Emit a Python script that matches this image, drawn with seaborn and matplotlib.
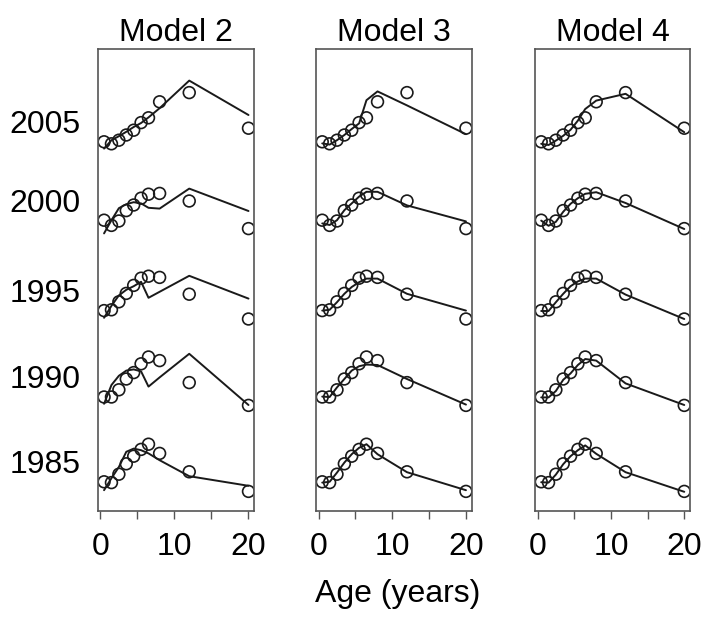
import numpy as np
import pandas as pd
import matplotlib.pyplot as plt
import seaborn as sns

# ages where the fish were sampled (years)
ages = [0.5, 1.5, 2.5, 3.5, 4.5, 5.5, 6.5, 8, 12, 20]
years = [1985, 1990, 1995, 2000, 2005]
models = ["Model 2", "Model 3", "Model 4"]

# observed values (same in every panel), relative to the year label
obs = {
    1985: [-0.50, -0.52, -0.31, -0.05, 0.14, 0.31, 0.44, 0.21, -0.25, -0.74],
    1990: [-0.51, -0.51, -0.33, -0.06, 0.10, 0.32, 0.49, 0.40, -0.15, -0.72],
    1995: [-0.50, -0.48, -0.28, -0.07, 0.13, 0.31, 0.36, 0.33, -0.09, -0.71],
    2000: [-0.49, -0.62, -0.51, -0.25, -0.11, 0.06, 0.16, 0.18, -0.01, -0.70],
    2005: [-0.50, -0.55, -0.46, -0.33, -0.21, -0.02, 0.10, 0.50, 0.73, -0.16],
}

# fitted curves
fit_m2 = {
    1985: [-0.71, -0.41, -0.13, 0.25, 0.33, 0.29, 0.21, 0.04, -0.36, -0.60],
    1990: [-0.68, -0.21, 0.02, 0.15, 0.18, 0.13, -0.25, -0.02, 0.57, -0.71],
    1995: [-0.68, -0.38, -0.12, 0.02, 0.11, 0.22, -0.18, -0.03, 0.37, -0.20],
    2000: [-0.82, -0.49, -0.19, -0.09, -0.04, -0.07, -0.18, -0.20, 0.30, -0.26],
    2005: [-0.67, -0.46, -0.36, -0.25, -0.13, -0.03, 0.11, 0.34, 1.03, 0.17],
}
fit_m3 = {
    1985: [-0.52, -0.50, -0.27, -0.02, 0.19, 0.35, 0.44, 0.19, -0.26, -0.71],
    1990: [-0.50, -0.51, -0.27, -0.06, 0.15, 0.26, 0.30, 0.29, -0.06, -0.70],
    1995: [-0.50, -0.48, -0.29, -0.08, 0.09, 0.21, 0.30, 0.30, -0.08, -0.50],
    2000: [-0.57, -0.61, -0.49, -0.24, -0.07, 0.10, 0.22, 0.22, -0.12, -0.52],
    2005: [-0.54, -0.57, -0.46, -0.33, -0.18, -0.04, 0.54, 0.76, 0.41, -0.31],
}
fit_m4 = {
    1985: [-0.51, -0.52, -0.32, -0.06, 0.14, 0.29, 0.41, 0.20, -0.26, -0.75],
    1990: [-0.52, -0.52, -0.36, -0.08, 0.08, 0.29, 0.44, 0.40, -0.17, -0.71],
    1995: [-0.51, -0.51, -0.29, -0.08, 0.11, 0.23, 0.30, 0.30, -0.10, -0.71],
    2000: [-0.50, -0.63, -0.53, -0.28, -0.08, 0.06, 0.17, 0.21, -0.06, -0.71],
    2005: [-0.55, -0.58, -0.47, -0.35, -0.20, 0.03, 0.32, 0.53, 0.70, -0.26],
}
fits = {"Model 2": fit_m2, "Model 3": fit_m3, "Model 4": fit_m4}

# vertical position of each year's curve in the stack
offset = {1985: 1.23, 1990: 3.36, 1995: 5.51, 2000: 7.76, 2005: 9.73}

rows = []
for m in models:
    for yr in years:
        for a, o, f in zip(ages, obs[yr], fits[m][yr]):
            rows.append(dict(model=m, year=yr, age=a,
                             obs=o + offset[yr], fit=f + offset[yr]))
df = pd.DataFrame(rows)

sns.set_theme(style="white")
plt.rcParams['font.family'] = ['Liberation Sans', 'DejaVu Sans']
plt.rcParams['text.color'] = 'black'
plt.rcParams['xtick.color'] = 'black'
plt.rcParams['ytick.color'] = 'black'

fig = plt.figure(figsize=(7.03, 6.25), dpi=100)
lefts = [0.1398, 0.4502, 0.7617]
widths = [0.2219, 0.2208, 0.2198]
FS = 23

for i, m in enumerate(models):
    ax = fig.add_axes([lefts[i], 0.1824, widths[i], 0.7392])
    d = df[df.model == m]
    sns.lineplot(data=d, x="age", y="fit", units="year", estimator=None,
                 color="#1a1a1a", linewidth=1.4, ax=ax, sort=False)
    sns.scatterplot(data=d, x="age", y="obs", facecolor="none",
                    edgecolor="#1a1a1a", linewidth=1.2, s=72, ax=ax)
    ax.set_xlim(-0.28, 20.78)
    ax.set_ylim(0, 11.55)
    ax.set_xticks([0, 5, 10, 15, 20])
    ax.set_xticklabels(["0", "", "10", "", "20"])
    ax.tick_params(axis="x", direction="out", length=6, width=1,
                   color="#555555", labelsize=FS, pad=9, bottom=True)
    if i == 0:
        ax.set_yticks([offset[y] for y in years])
        ax.set_yticklabels([str(y) for y in years])
        ax.tick_params(axis="y", length=0, labelsize=FS, pad=13)
    else:
        ax.set_yticks([])
    ax.set_xlabel("")
    ax.set_ylabel("")
    ax.set_title(m, fontsize=FS, pad=6)
    for sp in ax.spines.values():
        sp.set_color("#555555")
        sp.set_linewidth(1.2)

fig.text(0.566, 0.05, "Age (years)", ha="center", va="center", fontsize=FS)

plt.savefig("out.png", dpi=100)
